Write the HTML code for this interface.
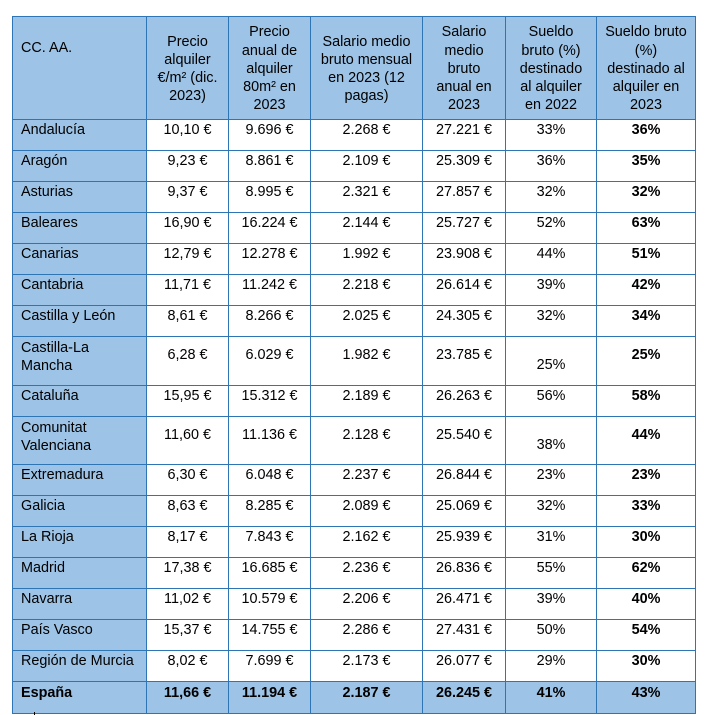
<!DOCTYPE html>
<html><head><meta charset="utf-8">
<style>
html,body{margin:0;padding:0;background:#fff;width:706px;height:715px;overflow:hidden}
table{position:absolute;left:12px;top:16px;border-collapse:collapse;table-layout:fixed;font-family:"Liberation Sans",Arial,sans-serif;font-size:14.4px;color:#000}
td,th{border:1px solid #2E75B6;padding:0;box-sizing:border-box;font-weight:normal}
th{background:#9DC3E6;text-align:center;vertical-align:middle;line-height:18.2px;padding-top:2px}
th.first{text-align:left;vertical-align:top;padding:22px 0 0 8px}
td{vertical-align:top;text-align:center;line-height:16px;padding-top:2px}
td.name{background:#9DC3E6;text-align:left;padding-left:8px}
tr.tall td{padding-top:10px}
tr.tall td.name{padding-top:2px}
tr.tall td.low{padding-top:20px}
tr.tall td.b{padding-top:10px}
td.b{font-weight:bold}
tr.total td{background:#9DC3E6;font-weight:bold;padding-top:3px}
.tick{position:absolute;left:34px;top:712px;width:1px;height:3px;background:#000}
</style></head><body>
<table>
<colgroup><col style="width:134px"><col style="width:82px"><col style="width:82px"><col style="width:112px"><col style="width:83px"><col style="width:91px"><col style="width:99px"></colgroup>
<tr style="height:103px">
<th class="first">CC. AA.</th>
<th>Precio<br>alquiler<br>€/m² (dic.<br>2023)</th>
<th>Precio<br>anual de<br>alquiler<br>80m² en<br>2023</th>
<th>Salario medio<br>bruto mensual<br>en 2023 (12<br>pagas)</th>
<th>Salario<br>medio<br>bruto<br>anual en<br>2023</th>
<th>Sueldo<br>bruto (%)<br>destinado<br>al alquiler<br>en 2022</th>
<th>Sueldo bruto<br>(%)<br>destinado al<br>alquiler en<br>2023</th>
</tr>
<tr style="height:31px"><td class="name">Andalucía</td><td>10,10 €</td><td>9.696 €</td><td>2.268 €</td><td>27.221 €</td><td>33%</td><td class="b">36%</td></tr>
<tr style="height:31px"><td class="name">Aragón</td><td>9,23 €</td><td>8.861 €</td><td>2.109 €</td><td>25.309 €</td><td>36%</td><td class="b">35%</td></tr>
<tr style="height:31px"><td class="name">Asturias</td><td>9,37 €</td><td>8.995 €</td><td>2.321 €</td><td>27.857 €</td><td>32%</td><td class="b">32%</td></tr>
<tr style="height:31px"><td class="name">Baleares</td><td>16,90 €</td><td>16.224 €</td><td>2.144 €</td><td>25.727 €</td><td>52%</td><td class="b">63%</td></tr>
<tr style="height:31px"><td class="name">Canarias</td><td>12,79 €</td><td>12.278 €</td><td>1.992 €</td><td>23.908 €</td><td>44%</td><td class="b">51%</td></tr>
<tr style="height:31px"><td class="name">Cantabria</td><td>11,71 €</td><td>11.242 €</td><td>2.218 €</td><td>26.614 €</td><td>39%</td><td class="b">42%</td></tr>
<tr style="height:31px"><td class="name">Castilla y León</td><td>8,61 €</td><td>8.266 €</td><td>2.025 €</td><td>24.305 €</td><td>32%</td><td class="b">34%</td></tr>
<tr class="tall" style="height:49px"><td class="name" style="line-height:18px">Castilla-La<br>Mancha</td><td>6,28 €</td><td>6.029 €</td><td>1.982 €</td><td>23.785 €</td><td class="low">25%</td><td class="b">25%</td></tr>
<tr style="height:31px"><td class="name">Cataluña</td><td>15,95 €</td><td>15.312 €</td><td>2.189 €</td><td>26.263 €</td><td>56%</td><td class="b">58%</td></tr>
<tr class="tall" style="height:48px"><td class="name" style="line-height:18px">Comunitat<br>Valenciana</td><td>11,60 €</td><td>11.136 €</td><td>2.128 €</td><td>25.540 €</td><td class="low">38%</td><td class="b">44%</td></tr>
<tr style="height:31px"><td class="name">Extremadura</td><td>6,30 €</td><td>6.048 €</td><td>2.237 €</td><td>26.844 €</td><td>23%</td><td class="b">23%</td></tr>
<tr style="height:31px"><td class="name">Galicia</td><td>8,63 €</td><td>8.285 €</td><td>2.089 €</td><td>25.069 €</td><td>32%</td><td class="b">33%</td></tr>
<tr style="height:31px"><td class="name">La Rioja</td><td>8,17 €</td><td>7.843 €</td><td>2.162 €</td><td>25.939 €</td><td>31%</td><td class="b">30%</td></tr>
<tr style="height:31px"><td class="name">Madrid</td><td>17,38 €</td><td>16.685 €</td><td>2.236 €</td><td>26.836 €</td><td>55%</td><td class="b">62%</td></tr>
<tr style="height:31px"><td class="name">Navarra</td><td>11,02 €</td><td>10.579 €</td><td>2.206 €</td><td>26.471 €</td><td>39%</td><td class="b">40%</td></tr>
<tr style="height:31px"><td class="name">País Vasco</td><td>15,37 €</td><td>14.755 €</td><td>2.286 €</td><td>27.431 €</td><td>50%</td><td class="b">54%</td></tr>
<tr style="height:31px"><td class="name">Región de Murcia</td><td>8,02 €</td><td>7.699 €</td><td>2.173 €</td><td>26.077 €</td><td>29%</td><td class="b">30%</td></tr>
<tr class="total" style="height:32px"><td class="name">España</td><td>11,66 €</td><td>11.194 €</td><td>2.187 €</td><td>26.245 €</td><td>41%</td><td>43%</td></tr>
</table>
<div class="tick"></div>
</body></html>
